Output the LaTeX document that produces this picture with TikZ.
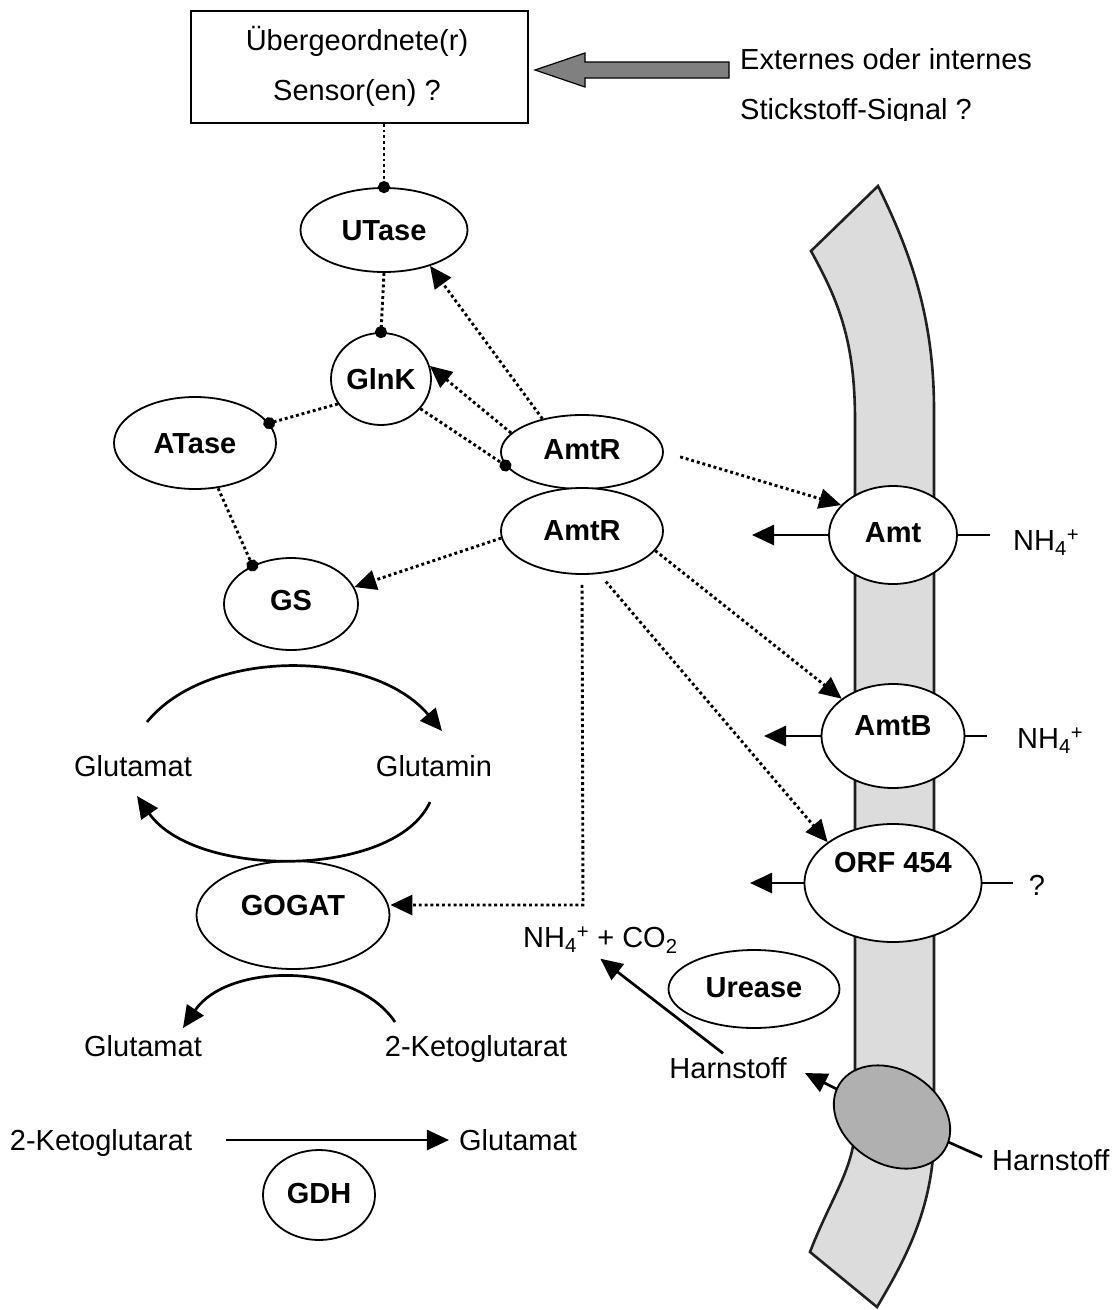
\documentclass[tikz,border=0pt]{standalone}
\usepackage{fontspec}
\setmainfont{Liberation Sans}
\usetikzlibrary{shapes.geometric,arrows.meta,calc}
\definecolor{membfill}{RGB}{220,220,220}
\definecolor{membedge}{RGB}{35,31,32}
\definecolor{transfill}{RGB}{176,176,176}
\definecolor{sigfill}{RGB}{128,128,128}
\begin{document}
\begin{tikzpicture}[x=1pt,y=-1pt,
  every node/.style={font=\fontsize{29}{34}\selectfont, inner sep=0pt},
  txt/.style={text height=21pt,text depth=0pt},
  lbl/.style={txt,font=\fontsize{29}{34}\selectfont\bfseries},
  enz/.style={ellipse,draw,line width=1.8pt,fill=white,inner sep=0pt},
  dotline/.style={line width=2.9pt,dash pattern=on 2.9pt off 2.9pt},
  dotcirc/.style={dotline,-{Circle[length=12pt,width=12pt]},shorten >=-6pt},
  dotarrow/.style={dotline,-{Triangle[length=22pt,width=20pt]}},
  solidarrow/.style={line width=2.7pt,-{Triangle[length=22pt,width=20pt]}},
  solidline/.style={line width=2.7pt},
  memb/.style={line width=2.6pt,draw=membedge,fill=membfill,line join=miter},
]
\useasboundingbox (0,0) rectangle (1117,1310);

% ---------- membrane ----------
\draw[memb] (811,251) -- (878,186) .. controls (912,255) and (934,320) .. (934,410)
  -- (934,1140) .. controls (932,1210) and (905,1260) .. (877,1307)
  -- (810,1252) .. controls (830,1200) and (853,1170) .. (855,1130)
  -- (855,420) .. controls (855,340) and (838,300) .. (811,251) -- cycle;

% ---------- sensor box and signal ----------
\node[draw,line width=1.5pt,minimum width=337pt,minimum height=112pt] (box) at (359.5,67) {};
\node[txt] (b1) at (357,40) {Übergeordnete(r)};
\node[txt] (b2) at (357,90) {Sensor(en) ?};
\node[txt,anchor=west] (ext1) at (740,59) {Externes oder internes};
\begin{scope}
\clip (700,85) rectangle (1117,120);
\node[txt,anchor=west] (ext2) at (740,109) {Stickstoff-Signal ?};
\end{scope}
\draw[line width=1.2pt,fill=sigfill] (535,70) -- (585,53) -- (585,62) -- (729,62)
  -- (729,78) -- (585,78) -- (585,87) -- cycle;

% ---------- regulatory ellipses ----------
\node[enz,lbl,minimum width=167pt,minimum height=84pt] (utase) at (384,230) {UTase};
\node[enz,lbl,minimum width=100pt,minimum height=92pt] (glnk) at (381,379) {GlnK};
\node[enz,lbl,minimum width=162pt,minimum height=92pt] (atase) at (195,443) {ATase};
\node[enz,minimum width=162pt,minimum height=74pt] (amtr1) at (582,452) {};
\node[lbl] (amtr1L) at (582,449) {AmtR};
\node[enz,minimum width=162pt,minimum height=86pt] (amtr2) at (582,531) {};
\node[lbl] (amtr2L) at (582,530) {AmtR};
\node[enz,minimum width=134pt,minimum height=92pt] (gs) at (291,604) {};
\node[lbl] (gsL) at (291,600) {GS};
\node[enz,minimum width=193pt,minimum height=108pt] (gogat) at (293,915) {};
\node[lbl] (gogatL) at (293,905) {GOGAT};
\node[enz,minimum width=112pt,minimum height=90pt] (gdh) at (319,1195) {};
\node[lbl] (gdhL) at (319,1193) {GDH};
\node[enz,minimum width=171pt,minimum height=78pt] (urease) at (754,989) {};
\node[lbl] (ureaseL) at (754,987) {Urease};

% ---------- transporter side lines (behind ellipses) ----------
\coordinate (amtLo) at (752,535);
\coordinate (amtRo) at (990,535);
\coordinate (amtbLo) at (764,736);
\coordinate (amtbRo) at (987,736);
\coordinate (orfLo) at (750,883);
\coordinate (orfRo) at (1013,883);
\coordinate (transc) at (892,1117);
\coordinate (transLo) at (805,1073);
\coordinate (transRo) at (982,1157);
\draw[solidarrow] (transc) -- (transLo);
\draw[solidline] (transc) -- (transRo);

% ---------- membrane proteins ----------
\node[enz,minimum width=128pt,minimum height=98pt] (amt) at (893,535) {};
\node[lbl] (amtL) at (893,532) {Amt};
\node[enz,minimum width=143pt,minimum height=104pt] (amtb) at (893,736) {};
\node[lbl] (amtbL) at (893,725) {AmtB};
\node[enz,minimum width=177pt,minimum height=118pt] (orf) at (893,883) {};
\node[lbl] (orfL) at (893,862) {ORF 454};
\node[ellipse,draw,line width=1.8pt,fill=transfill,minimum width=124pt,minimum height=94pt,rotate=-32] (trans) at (transc) {};

\draw[solidarrow] (amt.west) -- (amtLo);
\draw[solidline] (amt.east) -- (amtRo);
\draw[solidarrow] (amtb.west) -- (amtbLo);
\draw[solidline] (amtb.east) -- (amtbRo);
\draw[solidarrow] (orf.west) -- (orfLo);
\draw[solidline] (orf.east) -- (orfRo);

\node[txt,anchor=west] (nh1) at (1013,540) {NH\textsubscript{4}\textsuperscript{+}};
\node[txt,anchor=west] (nh2) at (1017,738) {NH\textsubscript{4}\textsuperscript{+}};
\node[txt] (q) at (1037,885) {?};
\node[txt,anchor=west] (nhco) at (523,937) {NH\textsubscript{4}\textsuperscript{+} + CO\textsubscript{2}};
\node[txt] (harn1) at (728,1068) {Harnstoff};
\node[txt,anchor=west] (harn2) at (992,1160) {Harnstoff};
\draw[solidarrow] ([xshift=-5pt,yshift=4pt]harn1.north) -- ([yshift=-11pt]nhco.south);

% ---------- regulatory connectors ----------
\draw[dotcirc] (box.south -| utase.north) -- (utase.north);
\draw[dotcirc] (utase.south) -- (glnk.north);
\draw[dotcirc] (glnk.210) -- (atase.15);
\draw[dotcirc] ([xshift=2pt]atase.-65) -- (gs.135);
\draw[dotcirc] (glnk.-37) -- (amtr1.190);
\draw[dotarrow] (amtr1.140) -- (utase.-38);
\draw[dotarrow] (amtr1.165) -- (glnk.15);
\draw[dotarrow,shorten <=17pt] (amtr1.east) -- (amt.150);
\draw[dotarrow] (amtr2.185) -- (gs.15);
\draw[dotarrow] (amtr2.-15) -- (amtb.144);
\draw[dotarrow,shorten <=10pt] (amtr2.-68) -- (orf.148);
\coordinate (bend) at (583,905);
\draw[dotarrow,shorten <=10pt] (amtr2.south) -- (bend) -- (bend -| gogat.east);

% ---------- GS / GOGAT cycle ----------
\node[txt] (glu1) at (133,766) {Glutamat};
\node[txt] (gln) at (434,766) {Glutamin};
\coordinate (a1s) at (147,722);
\coordinate (a1e) at (442,731);
\draw[solidarrow] (a1s) .. controls (207,648) and (372,648) .. (a1e);
\coordinate (a2s) at (430,802);
\coordinate (a2e) at (137,796);
\draw[solidarrow] (a2s) .. controls (395,879) and (195,879) .. (a2e);

\node[txt] (glu2) at (143,1046) {Glutamat};
\node[txt] (kg1) at (476,1046) {2-Ketoglutarat};
\coordinate (a3s) at (395,1022);
\coordinate (a3e) at (183,1028);
\draw[solidarrow] (a3s) .. controls (355,962) and (228,962) .. (a3e);

% ---------- GDH ----------
\node[txt] (kg2) at (101,1140) {2-Ketoglutarat};
\node[txt] (glu3) at (518,1140) {Glutamat};
\draw[solidarrow,shorten <=34pt,shorten >=10pt] (kg2.east) -- (glu3.west);
\end{tikzpicture}
\end{document}
